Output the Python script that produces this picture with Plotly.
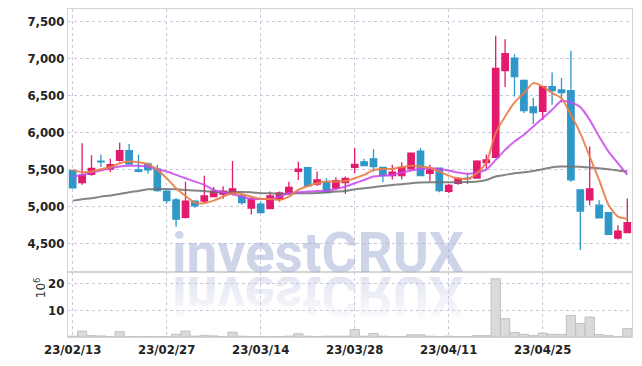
import base64
import plotly.graph_objects as go
from plotly.subplots import make_subplots

dates = ["2023-02-13","2023-02-14","2023-02-15","2023-02-16","2023-02-17","2023-02-20","2023-02-21","2023-02-22","2023-02-23","2023-02-24",
         "2023-02-27","2023-02-28","2023-03-02","2023-03-03","2023-03-06","2023-03-07","2023-03-08","2023-03-09","2023-03-10","2023-03-13",
         "2023-03-14","2023-03-15","2023-03-16","2023-03-17","2023-03-20","2023-03-21","2023-03-22","2023-03-23","2023-03-24","2023-03-27",
         "2023-03-28","2023-03-29","2023-03-30","2023-03-31","2023-04-03","2023-04-04","2023-04-05","2023-04-06","2023-04-07","2023-04-10",
         "2023-04-11","2023-04-12","2023-04-13","2023-04-14","2023-04-17","2023-04-18","2023-04-19","2023-04-20","2023-04-21","2023-04-24",
         "2023-04-25","2023-04-26","2023-04-27","2023-04-28","2023-05-02","2023-05-03","2023-05-04","2023-05-08","2023-05-09","2023-05-10"]

open_ = [5480,5320,5430,5610,5500,5620,5750,5490,5570,5500,
         5205,5085,4850,5070,5070,5130,5165,5175,5140,4975,
         5030,4970,5095,5175,5470,5520,5300,5330,5245,5320,
         5525,5600,5640,5525,5415,5415,5505,5745,5445,5515,
         5200,5310,5380,5380,5590,5660,6830,7000,6700,6340,
         6280,6615,6570,6560,5220,5085,5015,4915,4570,4645]
high = [5490,5850,5690,5700,5640,5860,5840,5700,5590,5560,
        5210,5110,5330,5080,5410,5260,5270,5610,5170,5140,
        5060,5200,5200,5330,5600,5530,5470,5380,5390,5400,
        5785,5640,5770,5530,5560,5595,5720,5785,5560,5520,
        5300,5390,5435,5620,5700,7300,7255,7050,6710,6460,
        6620,6805,6730,7100,5225,5805,5080,4920,4745,5105]
low = [5245,5290,5410,5530,5460,5600,5560,5460,5440,5195,
       5040,4725,4835,4980,5040,5120,5100,5150,5020,4890,
       4905,4960,5060,5170,5355,5270,5275,5180,5230,5165,
       5445,5540,5470,5325,5360,5365,5490,5410,5340,5190,
       5180,5290,5300,5375,5505,5650,6610,6480,6260,6110,
       6165,6370,6400,5330,4410,5015,4840,4615,4550,4640]
close = [5250,5420,5510,5600,5560,5750,5570,5470,5490,5210,
         5075,4825,5070,5005,5140,5205,5205,5235,5050,5095,
         4915,5140,5180,5255,5500,5275,5355,5185,5345,5375,
         5565,5550,5535,5415,5460,5525,5715,5415,5490,5210,
         5280,5375,5370,5610,5625,6860,7060,6750,6290,6265,
         6615,6560,6535,5355,4935,5235,4845,4620,4665,4780]

ma_short = [5491,5459,5468,5500,5527,5581,5603,5595,5568,5491,
            5378,5243,5139,5049,5041,5076,5130,5176,5162,5130,
            5099,5099,5085,5130,5220,5274,5311,5333,5333,5340,
            5378,5423,5491,5504,5504,5527,5545,5536,5522,5468,
            5414,5378,5369,5446,5590,5986,6211,6400,6527,6662,
            6617,6527,6459,6234,5986,5670,5355,5017,4860,4828]
ma_mid = [5401,5423,5455,5482,5514,5536,5545,5545,5536,5500,
          5468,5423,5378,5333,5288,5220,5189,5162,5130,5099,
          5099,5099,5130,5176,5189,5198,5207,5207,5234,5265,
          5311,5355,5401,5414,5423,5455,5482,5504,5514,5504,
          5482,5455,5437,5455,5495,5626,5761,5874,5964,6076,
          6189,6301,6423,6400,6338,6166,5940,5738,5581,5423]
ma_long = [5076,5095,5108,5130,5144,5166,5189,5207,5230,5234,
           5234,5230,5220,5211,5207,5193,5189,5189,5193,5189,
           5176,5176,5166,5166,5176,5176,5180,5189,5198,5207,
           5228,5243,5257,5274,5288,5297,5311,5320,5324,5324,
           5324,5324,5326,5333,5355,5401,5423,5446,5459,5477,
           5500,5527,5536,5536,5532,5522,5514,5500,5482,5468]

volume_m = [0.3,2.2,0.5,0.4,0.1,2.0,0.1,0.1,0.1,0.1,
            0.1,1.0,2.2,0.3,0.6,0.4,0.1,1.8,0.3,0.1,
            0.1,0.1,0.1,0.3,1.2,0.3,0.1,0.3,0.3,0.3,
            2.8,0.3,1.3,0.3,0.1,0.1,0.8,0.8,0.3,0.1,
            0.3,0.1,0.1,0.5,0.5,21.6,6.8,1.7,1.0,0.5,
            1.4,1.0,1.0,8.0,5.0,7.4,0.9,0.5,0.1,3.1]

labels = [d[2:4] + "/" + d[5:7] + "/" + d[8:10] for d in dates]
tick_idx = [0, 10, 20, 30, 40, 50]
watermark = "investCRUX"

UP = "#e31b6d"
DOWN = "#2f98c9"

fig = make_subplots(rows=2, cols=1, shared_xaxes=True, vertical_spacing=0,
                    row_heights=[0.802, 0.198])

fig.add_trace(go.Candlestick(
    x=labels, open=open_, high=high, low=low, close=close,
    increasing=dict(line=dict(color=UP, width=1.3), fillcolor=UP),
    decreasing=dict(line=dict(color=DOWN, width=1.3), fillcolor=DOWN),
    whiskerwidth=0, showlegend=False), row=1, col=1)

for vals, col in [(ma_long, "rgba(110,110,110,0.85)"),
                  (ma_mid, "rgba(200,70,235,0.85)"),
                  (ma_short, "rgba(236,125,70,0.9)")]:
    fig.add_trace(go.Scatter(x=labels, y=vals, mode="lines",
                             line=dict(color=col, width=2, shape="spline", smoothing=0.6),
                             showlegend=False, hoverinfo="skip"), row=1, col=1)

fig.add_trace(go.Bar(x=labels, y=volume_m, marker=dict(color="#dadada", line=dict(color="#c0c0c0", width=1)),
                     showlegend=False), row=2, col=1)

FONT = "DejaVu Sans Condensed, Roboto Condensed, Roboto, sans-serif"
tick_font = dict(family=FONT, size=13, color="#222222", weight="bold")
grid = dict(showgrid=True, gridcolor="#c9c9da", griddash="dot", gridwidth=1)

fig.update_xaxes(type="category", range=[-0.5, 59.5], showline=True, mirror=True, linecolor="#d4d4d4",
                 tickvals=[labels[i] for i in tick_idx], ticktext=[labels[i] for i in tick_idx],
                 tickfont=tick_font, ticks="", automargin=False, **grid)
fig.update_xaxes(showticklabels=False, row=1, col=1)
fig.update_yaxes(range=[4112, 7662], tickvals=[4500, 5000, 5500, 6000, 6500, 7000, 7500],
                 tickformat=",", showline=True, mirror=True, linecolor="#d4d4d4", automargin=False,
                 tickfont=tick_font, ticks="", row=1, col=1, **grid)
fig.update_yaxes(range=[0, 24.1], tickvals=[10, 20], showline=True, mirror=True, linecolor="#d4d4d4",
                 tickfont=tick_font, ticks="", automargin=False, row=2, col=1, **grid)

fig.add_annotation(xref="paper", yref="paper", x=-0.066, y=0.113, text="10<sup>6</sup>", textangle=-90,
                   showarrow=False, font=dict(family="DejaVu Sans", size=12, color="#333333"))

fig.add_annotation(xref="paper", yref="paper", x=0.443, y=0.255, yanchor="middle", text=watermark,
                   showarrow=False, font=dict(family="Roboto", size=55, weight="bold",
                                              color="rgba(160,172,212,0.5)"))

svg = ('<svg xmlns="http://www.w3.org/2000/svg" width="320" height="70" viewBox="0 0 320 70">'
       '<defs><linearGradient id="g" x1="0" y1="0" x2="0" y2="1">'
       '<stop offset="0" stop-color="#aab4d7" stop-opacity="0.0"/>'
       '<stop offset="1" stop-color="#aab4d7" stop-opacity="0.42"/></linearGradient></defs>'
       '<text x="160" y="0" transform="scale(1,-1)" text-anchor="middle" font-family="Roboto" '
       'font-weight="bold" font-size="55" fill="url(#g)">' + watermark + '</text></svg>')
src = "data:image/svg+xml;base64," + base64.b64encode(svg.encode()).decode()
fig.add_layout_image(source=src, xref="paper", yref="paper", x=0.443, y=0.183,
                     sizex=320 / 564, sizey=70 / 328, xanchor="center", yanchor="top",
                     sizing="stretch", layer="below")

fig.update_layout(width=642, height=366, margin=dict(l=68, r=10, t=9, b=29),
                  paper_bgcolor="white", plot_bgcolor="white", bargap=0.02,
                  boxgap=0.32, boxgroupgap=0,
                  xaxis=dict(rangeslider=dict(visible=False)))

fig.write_html("out.html", config={"displayModeBar": False},
               post_script="document.body.style.margin='0';")
